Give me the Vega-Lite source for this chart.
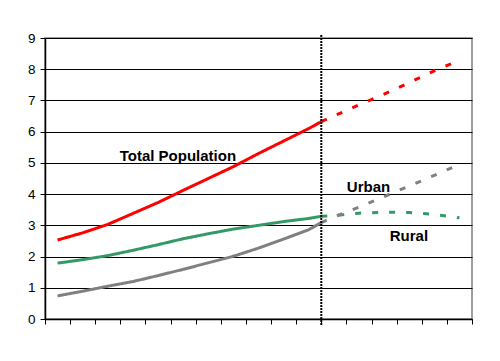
{
  "$schema": "https://vega.github.io/schema/vega-lite/v6.json",
  "width": 427,
  "height": 281,
  "autosize": {"type": "none"},
  "padding": {"left": 45, "top": 38, "right": 28, "bottom": 42},
  "background": "white",
  "config": {
    "view": {"stroke": "#808080", "strokeWidth": 1.5},
    "font": "Liberation Sans"
  },
  "datasets": {
    "series": [
      {"series": "Total", "seg": "solid", "x": 0.5, "y": 2.53},
      {"series": "Total", "seg": "solid", "x": 1.5, "y": 2.76},
      {"series": "Total", "seg": "solid", "x": 2.5, "y": 3.03},
      {"series": "Total", "seg": "solid", "x": 3.5, "y": 3.38},
      {"series": "Total", "seg": "solid", "x": 4.5, "y": 3.73},
      {"series": "Total", "seg": "solid", "x": 5.5, "y": 4.12},
      {"series": "Total", "seg": "solid", "x": 6.5, "y": 4.5},
      {"series": "Total", "seg": "solid", "x": 7.5, "y": 4.88},
      {"series": "Total", "seg": "solid", "x": 8.5, "y": 5.3},
      {"series": "Total", "seg": "solid", "x": 9.5, "y": 5.7},
      {"series": "Total", "seg": "solid", "x": 10.5, "y": 6.1},
      {"series": "Total", "seg": "solid", "x": 11.0, "y": 6.32},
      {"series": "Total", "seg": "proj", "x": 11.0, "y": 6.32},
      {"series": "Total", "seg": "proj", "x": 11.5, "y": 6.5},
      {"series": "Total", "seg": "proj", "x": 12.5, "y": 6.86},
      {"series": "Total", "seg": "proj", "x": 13.5, "y": 7.2},
      {"series": "Total", "seg": "proj", "x": 14.5, "y": 7.57},
      {"series": "Total", "seg": "proj", "x": 15.5, "y": 7.95},
      {"series": "Total", "seg": "proj", "x": 16.5, "y": 8.28},
      {"series": "Rural", "seg": "solid", "x": 0.5, "y": 1.79},
      {"series": "Rural", "seg": "solid", "x": 1.5, "y": 1.9},
      {"series": "Rural", "seg": "solid", "x": 2.5, "y": 2.03},
      {"series": "Rural", "seg": "solid", "x": 3.5, "y": 2.2},
      {"series": "Rural", "seg": "solid", "x": 4.5, "y": 2.38},
      {"series": "Rural", "seg": "solid", "x": 5.5, "y": 2.57},
      {"series": "Rural", "seg": "solid", "x": 6.5, "y": 2.73},
      {"series": "Rural", "seg": "solid", "x": 7.5, "y": 2.88},
      {"series": "Rural", "seg": "solid", "x": 8.5, "y": 3.0},
      {"series": "Rural", "seg": "solid", "x": 9.5, "y": 3.12},
      {"series": "Rural", "seg": "solid", "x": 10.5, "y": 3.22},
      {"series": "Rural", "seg": "solid", "x": 11.0, "y": 3.29},
      {"series": "Rural", "seg": "proj", "x": 11.0, "y": 3.29},
      {"series": "Rural", "seg": "proj", "x": 11.5, "y": 3.31},
      {"series": "Rural", "seg": "proj", "x": 12.5, "y": 3.39},
      {"series": "Rural", "seg": "proj", "x": 13.5, "y": 3.42},
      {"series": "Rural", "seg": "proj", "x": 14.5, "y": 3.41},
      {"series": "Rural", "seg": "proj", "x": 15.5, "y": 3.35},
      {"series": "Rural", "seg": "proj", "x": 16.5, "y": 3.24},
      {"series": "Urban", "seg": "solid", "x": 0.5, "y": 0.74},
      {"series": "Urban", "seg": "solid", "x": 1.5, "y": 0.89},
      {"series": "Urban", "seg": "solid", "x": 2.5, "y": 1.05},
      {"series": "Urban", "seg": "solid", "x": 3.5, "y": 1.2},
      {"series": "Urban", "seg": "solid", "x": 4.5, "y": 1.39},
      {"series": "Urban", "seg": "solid", "x": 5.5, "y": 1.59},
      {"series": "Urban", "seg": "solid", "x": 6.5, "y": 1.8},
      {"series": "Urban", "seg": "solid", "x": 7.5, "y": 2.01},
      {"series": "Urban", "seg": "solid", "x": 8.5, "y": 2.27},
      {"series": "Urban", "seg": "solid", "x": 9.5, "y": 2.56},
      {"series": "Urban", "seg": "solid", "x": 10.5, "y": 2.86},
      {"series": "Urban", "seg": "solid", "x": 11.0, "y": 3.09},
      {"series": "Urban", "seg": "proj", "x": 11.0, "y": 3.09},
      {"series": "Urban", "seg": "proj", "x": 11.5, "y": 3.27},
      {"series": "Urban", "seg": "proj", "x": 12.5, "y": 3.58},
      {"series": "Urban", "seg": "proj", "x": 13.5, "y": 3.92},
      {"series": "Urban", "seg": "proj", "x": 14.5, "y": 4.26},
      {"series": "Urban", "seg": "proj", "x": 15.5, "y": 4.6},
      {"series": "Urban", "seg": "proj", "x": 16.5, "y": 4.95}
    ],
    "labels": [
      {"label": "Total Population", "x": 5.29, "y": 5.22},
      {"label": "Urban", "x": 12.88, "y": 4.24},
      {"label": "Rural", "x": 14.49, "y": 2.66}
    ],
    "divider": [
      {"x": 11.0, "y": 9.1, "y_end": -0.2}
    ]
  },
  "encoding": {
    "x": {
      "field": "x", "type": "quantitative",
      "scale": {"domain": [0, 17], "nice": false, "zero": false},
      "axis": {
        "values": [0,1,2,3,4,5,6,7,8,9,10,11,12,13,14,15,16,17],
        "labels": false, "grid": false, "title": null,
        "domainColor": "black", "domainWidth": 1.5,
        "tickColor": "black", "tickSize": 5, "tickWidth": 1
      }
    },
    "y": {
      "field": "y", "type": "quantitative",
      "scale": {"domain": [0, 9], "nice": false},
      "axis": {
        "values": [0,1,2,3,4,5,6,7,8,9],
        "title": null, "grid": true, "gridColor": "black", "gridOpacity": 1, "gridWidth": 1,
        "domainColor": "black", "domainWidth": 1.5,
        "tickColor": "black", "tickSize": 5, "labelOverlap": false,
        "labelFontSize": 13.5, "labelColor": "black", "labelPadding": 5,
        "labelFont": "Liberation Sans"
      }
    }
  },
  "layer": [
    {
      "data": {"name": "series"},
      "mark": {"type": "line", "strokeWidth": 3, "strokeCap": "butt"},
      "encoding": {
        "color": {
          "field": "series", "type": "nominal",
          "scale": {"domain": ["Total", "Rural", "Urban"], "range": ["#FF0000", "#339966", "#808080"]},
          "legend": null
        },
        "strokeDash": {
          "field": "seg", "type": "nominal",
          "scale": {"domain": ["solid", "proj"], "range": [[1, 0], [6, 11]]},
          "legend": null
        },
        "detail": {"field": "seg"},
        "order": {"field": "x", "type": "quantitative"}
      }
    },
    {
      "data": {"name": "divider"},
      "mark": {"type": "rule", "color": "black", "strokeWidth": 2, "strokeDash": [2, 1]},
      "encoding": {
        "y2": {"field": "y_end"}
      }
    },
    {
      "data": {"name": "labels"},
      "mark": {"type": "text", "font": "Liberation Sans", "fontSize": 15, "fontWeight": "bold", "color": "black", "align": "center", "baseline": "middle"},
      "encoding": {
        "text": {"field": "label"}
      }
    }
  ]
}
